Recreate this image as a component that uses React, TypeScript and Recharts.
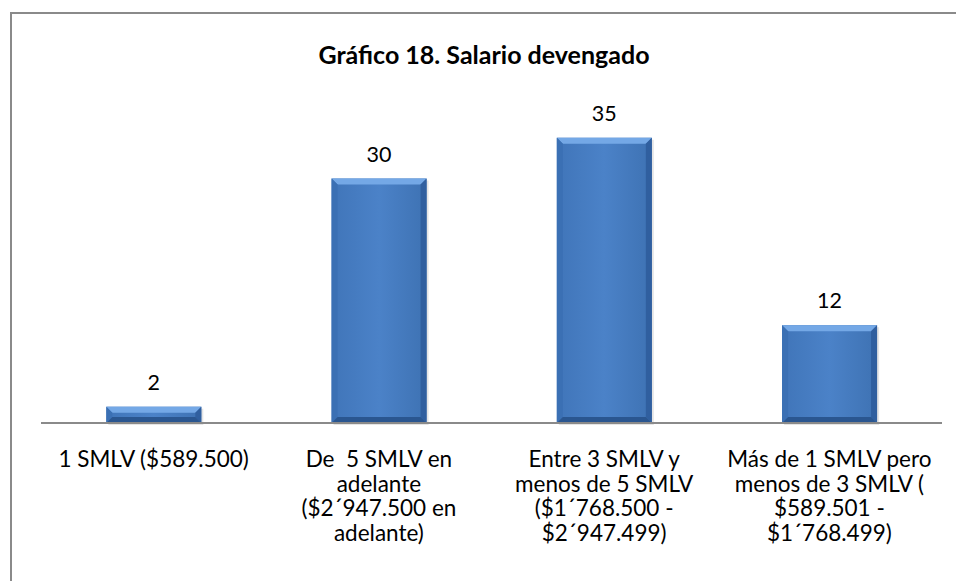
import { BarChart, Bar, XAxis, YAxis, LabelList } from 'recharts';

const categories = [
  '1 SMLV ($589.500)',
  'De  5 SMLV en adelante ($2´947.500 en adelante)',
  'Entre 3 SMLV y menos de 5 SMLV ($1´768.500 - $2´947.499)',
  'Más de 1 SMLV pero menos de 3 SMLV ( $589.501 - $1´768.499)',
];

// how each category label wraps under the axis
const tickLines = [
  ['1 SMLV ($589.500)'],
  ['De  5 SMLV en', 'adelante', '($2´947.500 en', 'adelante)'],
  ['Entre 3 SMLV y', 'menos de 5 SMLV', '($1´768.500 -', '$2´947.499)'],
  ['Más de 1 SMLV pero', 'menos de 3 SMLV (', '$589.501 -', '$1´768.499)'],
];

const values = [2, 30, 35, 12];

const data = categories.map((name, i) => ({ name, value: values[i] }));

const FONT = 'Lato, "Open Sans", sans-serif';

const CategoryTick = (props: any) => {
  const { x, y, index } = props;
  const lines = tickLines[index] || [];
  return (
    <g transform={`translate(${x},${y})`}>
      <text textAnchor="middle" fontFamily={FONT} fontSize={22.5} fill="#000" style={{ whiteSpace: 'pre' }}>
        {lines.map((l, i) => (
          <tspan key={i} x={0} dy={i === 0 ? 36 : 24.6}>
            {l}
          </tspan>
        ))}
      </text>
    </g>
  );
};

// bevelled bar like the office chart style
const BevelBar = (props: any) => {
  const { x, y, width, height } = props;
  if (!height || height <= 0) return null;
  const b = Math.min(6, height / 2, width / 2);
  const x2 = x + width;
  const y2 = y + height;
  return (
    <g>
      <rect x={x + 2} y={y + 2} width={width} height={height} fill="#000" opacity={0.1} />
      <rect x={x} y={y} width={width} height={height} fill="url(#barFace)" />
      <polygon points={`${x},${y} ${x2},${y} ${x2 - b},${y + b} ${x + b},${y + b}`} fill="#74a8e6" />
      <polygon points={`${x},${y} ${x + b},${y + b} ${x + b},${y2 - b} ${x},${y2}`} fill="#3b70b4" />
      <polygon points={`${x2},${y} ${x2},${y2} ${x2 - b},${y2 - b} ${x2 - b},${y + b}`} fill="#305f9f" />
      <polygon points={`${x},${y2} ${x + b},${y2 - b} ${x2 - b},${y2 - b} ${x2},${y2}`} fill="#2a5690" />
    </g>
  );
};

export default function App() {
  return (
    <div style={{ position: 'absolute', left: 0, top: 0, width: 956, height: 581, overflow: 'hidden', background: '#fff' }}>
      <div
        style={{
          position: 'absolute',
          left: 10,
          top: 12,
          width: 960,
          height: 600,
          border: '2px solid #8a8a8a',
          boxSizing: 'border-box',
        }}
      />
      <div
        style={{
          position: 'absolute',
          left: 0,
          top: 39,
          width: 968,
          textAlign: 'center',
          fontFamily: FONT,
          fontWeight: 'bold',
          fontSize: 25,
          lineHeight: '30px',
        }}
      >
        Gráfico 18. Salario devengado
      </div>
      <div style={{ position: 'absolute', left: 0, top: 0 }}>
        <BarChart width={956} height={581} data={data} margin={{ top: 97, right: 14, left: 41, bottom: 0 }} barCategoryGap="29%">
          <defs>
            <linearGradient id="barFace" x1="0" y1="0" x2="1" y2="0">
              <stop offset="0%" stopColor="#4075b9" />
              <stop offset="50%" stopColor="#4b82c8" />
              <stop offset="100%" stopColor="#3e72b3" />
            </linearGradient>
          </defs>
          <XAxis
            dataKey="name"
            height={158}
            interval={0}
            tickLine={false}
            axisLine={{ stroke: '#8a8a8a', strokeWidth: 2 }}
            tick={<CategoryTick />}
          />
          <YAxis hide domain={[0, 40]} />
          <Bar dataKey="value" shape={<BevelBar />} isAnimationActive={false}>
            <LabelList dataKey="value" position="top" offset={17} fontFamily={FONT} fontSize={21.5} fill="#000" />
          </Bar>
        </BarChart>
      </div>
    </div>
  );
}
